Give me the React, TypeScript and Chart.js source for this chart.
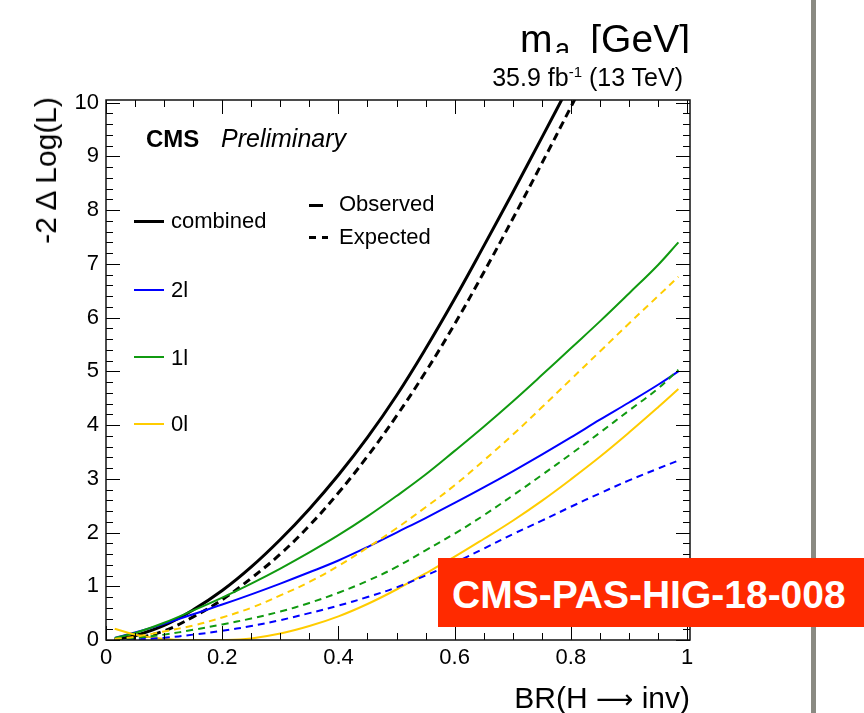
import React, { useEffect, useRef } from "react";
import { Chart, registerables } from "chart.js";

Chart.register(...registerables);

const FONT = "'Liberation Sans', Arial, Helvetica, sans-serif";

// BR(H -> inv) sample points
const BR = [0.015, 0.05, 0.1, 0.15, 0.2, 0.25, 0.3, 0.35, 0.4, 0.45, 0.5, 0.55, 0.6, 0.65, 0.7, 0.75, 0.8, 0.85, 0.9, 0.95, 0.985];

// -2 Delta Log(L) values
const combinedObs = [0.01, 0.08, 0.27, 0.56, 0.92, 1.36, 1.87, 2.44, 3.07, 3.77, 4.55, 5.42, 6.35, 7.33, 8.33, 9.35, 10.38, null, null, null, null];
const combinedExp = [0.0, 0.03, 0.17, 0.43, 0.75, 1.15, 1.6, 2.13, 2.74, 3.42, 4.17, 4.99, 5.88, 6.84, 7.84, 8.87, 9.92, 10.98, null, null, null];
const twoLepObs = [0.04, 0.14, 0.3, 0.48, 0.66, 0.85, 1.05, 1.26, 1.48, 1.73, 2.0, 2.27, 2.55, 2.84, 3.14, 3.45, 3.77, 4.1, 4.42, 4.75, 5.0];
const twoLepExp = [0.0, 0.01, 0.04, 0.1, 0.17, 0.26, 0.37, 0.5, 0.64, 0.8, 0.98, 1.2, 1.44, 1.7, 1.97, 2.22, 2.48, 2.73, 2.97, 3.19, 3.34];
const oneLepObs = [0.04, 0.13, 0.32, 0.55, 0.79, 1.05, 1.33, 1.63, 1.95, 2.3, 2.68, 3.08, 3.52, 3.97, 4.44, 4.93, 5.43, 5.93, 6.45, 6.98, 7.4];
const oneLepExp = [0.01, 0.04, 0.1, 0.19, 0.29, 0.4, 0.53, 0.69, 0.88, 1.1, 1.36, 1.67, 1.98, 2.32, 2.69, 3.07, 3.46, 3.86, 4.27, 4.68, 5.03];
const zeroLepObs = [0.21, 0.1, 0.02, 0.0, 0.0, 0.03, 0.12, 0.26, 0.44, 0.67, 0.94, 1.24, 1.55, 1.88, 2.22, 2.59, 2.99, 3.41, 3.86, 4.33, 4.67];
const zeroLepExp = [0.02, 0.06, 0.16, 0.27, 0.42, 0.6, 0.83, 1.08, 1.38, 1.72, 2.08, 2.47, 2.88, 3.34, 3.82, 4.33, 4.85, 5.37, 5.89, 6.4, 6.76];

// axis ticks
const xTicks = [0, 0.2, 0.4, 0.6, 0.8, 1];
const yTicks = [0, 1, 2, 3, 4, 5, 6, 7, 8, 9, 10];
const xMinorPerMajor = 4;
const yMinorPerMajor = 5;

const BLACK = "#000000";
const BLUE = "#0000ff";
const GREEN = "#109a10";
const YELLOW = "#ffcc00";

const mk = (vals: (number | null)[]) => BR.map((x, i) => ({ x, y: vals[i] }));

const framePlugin = {
  id: "rootFrame",
  afterDatasetsDraw(chart: any) {
    const { ctx, chartArea: a, scales } = chart;
    const xs = scales.x;
    const ys = scales.y;
    ctx.save();
    ctx.strokeStyle = "#000";
    ctx.lineWidth = 1;
    ctx.beginPath();
    for (let k = 0; k < xTicks.length; k++) {
      const v0 = xTicks[k];
      const v1 = k + 1 < xTicks.length ? xTicks[k + 1] : null;
      const steps = v1 === null ? 1 : xMinorPerMajor;
      for (let m = 0; m < steps; m++) {
        const v = v1 === null ? v0 : v0 + ((v1 - v0) * m) / xMinorPerMajor;
        const px = Math.round(xs.getPixelForValue(v)) + 0.5;
        const len = m === 0 ? 14 : 7;
        ctx.moveTo(px, a.bottom);
        ctx.lineTo(px, a.bottom - len);
        ctx.moveTo(px, a.top);
        ctx.lineTo(px, a.top + len);
      }
    }
    for (let k = 0; k < yTicks.length; k++) {
      const v0 = yTicks[k];
      const v1 = k + 1 < yTicks.length ? yTicks[k + 1] : null;
      const steps = v1 === null ? 1 : yMinorPerMajor;
      for (let m = 0; m < steps; m++) {
        const v = v1 === null ? v0 : v0 + ((v1 - v0) * m) / yMinorPerMajor;
        const py = Math.round(ys.getPixelForValue(v)) + 0.5;
        const len = m === 0 ? 14 : 7;
        ctx.moveTo(a.left, py);
        ctx.lineTo(a.left + len, py);
        ctx.moveTo(a.right, py);
        ctx.lineTo(a.right - len, py);
      }
    }
    ctx.stroke();
    ctx.lineWidth = 1.5;
    ctx.strokeStyle = "#111";
    ctx.strokeRect(a.left, a.top, a.right - a.left, a.bottom - a.top);
    ctx.restore();
  },
};

type TxtProps = {
  x: number;
  base: number;
  size: number;
  align?: "left" | "right";
  weight?: number;
  italic?: boolean;
  color?: string;
  children?: React.ReactNode;
};

const Txt = ({ x, base, size, align = "left", weight = 400, italic = false, color = "#000", children }: TxtProps) => {
  const style: any = {
    position: "absolute",
    top: base - 0.8465 * size,
    fontSize: size,
    lineHeight: 1,
    whiteSpace: "nowrap",
    fontWeight: weight,
    fontStyle: italic ? "italic" : "normal",
    color,
    fontFamily: FONT,
  };
  if (align === "left") style.left = x;
  else style.right = 864 - x;
  return <div style={style}>{children}</div>;
};

const Line = ({ x, y, w, color, t, dashed = false }: { x: number; y: number; w: number; color: string; t: number; dashed?: boolean }) => {
  if (dashed) {
    return (
      <>
        <div style={{ position: "absolute", left: x, top: y - t / 2, width: 7, height: t, background: color }} />
        <div style={{ position: "absolute", left: x + 13, top: y - t / 2, width: 6, height: t, background: color }} />
      </>
    );
  }
  return <div style={{ position: "absolute", left: x, top: y - t / 2, width: w, height: t, background: color }} />;
};

export default function App() {
  const ref = useRef<HTMLCanvasElement>(null);

  useEffect(() => {
    if (!ref.current) return;
    Chart.defaults.font.family = FONT;
    Chart.defaults.color = "#000";
    const line = (label: string, vals: (number | null)[], color: string, width: number, dash: number[]) => ({
      label,
      data: mk(vals),
      borderColor: color,
      backgroundColor: color,
      borderWidth: width,
      borderDash: dash,
      pointRadius: 0,
      fill: false,
      spanGaps: false,
      tension: 0.4,
    });
    const chart = new Chart(ref.current, {
      type: "line",
      data: {
        datasets: [
          line("0l expected", zeroLepExp, YELLOW, 2, [7, 5]),
          line("1l expected", oneLepExp, GREEN, 2, [7, 5]),
          line("2l expected", twoLepExp, BLUE, 2, [7, 5]),
          line("0l observed", zeroLepObs, YELLOW, 2, []),
          line("1l observed", oneLepObs, GREEN, 2, []),
          line("2l observed", twoLepObs, BLUE, 2, []),
          line("combined expected", combinedExp, BLACK, 3, [8, 5]),
          line("combined observed", combinedObs, BLACK, 3, []),
        ],
      },
      options: {
        animation: false,
        responsive: false,
        maintainAspectRatio: false,
        layout: { padding: { top: 100, right: 174, left: 0, bottom: 0 } },
        plugins: { legend: { display: false }, tooltip: { enabled: false } },
        scales: {
          x: {
            type: "linear",
            min: 0,
            max: 1.005,
            afterBuildTicks: (s: any) => {
              s.ticks = xTicks.map((v) => ({ value: v }));
            },
            afterFit: (s: any) => {
              s.height = 73;
            },
            ticks: {
              callback: (v: any) => String(v),
              font: { size: 22, family: FONT },
              color: "#000",
              padding: 5,
              maxRotation: 0,
              autoSkip: false,
            },
            grid: { display: false, drawTicks: false },
            border: { display: false },
          },
          y: {
            type: "linear",
            min: 0,
            max: 10.05,
            afterBuildTicks: (s: any) => {
              s.ticks = yTicks.map((v) => ({ value: v }));
            },
            afterFit: (s: any) => {
              s.width = 106;
            },
            ticks: {
              callback: (v: any) => String(v),
              font: { size: 22, family: FONT },
              color: "#000",
              padding: 7,
              autoSkip: false,
            },
            grid: { display: false, drawTicks: false },
            border: { display: false },
          },
        },
      },
      plugins: [framePlugin],
    } as any);
    return () => chart.destroy();
  }, []);

  return (
    <div style={{ position: "absolute", left: 0, top: 0, width: 864, height: 713, background: "#fff", overflow: "hidden", fontFamily: FONT }}>
      <canvas ref={ref} width={864} height={713} style={{ position: "absolute", left: 0, top: 0, width: 864, height: 713 }} />

      {/* header: m_a [GeV] (clipped at its pad edge) */}
      <div style={{ position: "absolute", left: 0, top: 0, width: 864, height: 53, overflow: "hidden" }}>
        <Txt x={520} base={52} size={39}>m</Txt>
        <Txt x={555} base={59} size={27}>a</Txt>
        <Txt x={690} base={52} size={39} align="right">[GeV]</Txt>
      </div>
      <Txt x={683} base={86} size={25} align="right">
        35.9 fb<span style={{ fontSize: 15, position: "relative", top: -9 }}>-1</span> (13 TeV)
      </Txt>

      {/* CMS label */}
      <Txt x={146} base={147} size={24} weight={700}>CMS</Txt>
      <Txt x={221} base={147} size={25} italic>Preliminary</Txt>

      {/* legend */}
      <Line x={134} y={221.5} w={30} color={BLACK} t={3} />
      <Txt x={171} base={229} size={22}>combined</Txt>
      <Line x={134} y={289.5} w={30} color={BLUE} t={2} />
      <Txt x={171} base={298} size={22}>2l</Txt>
      <Line x={134} y={356.5} w={30} color={GREEN} t={2} />
      <Txt x={171} base={365.5} size={22}>1l</Txt>
      <Line x={134} y={424} w={30} color={YELLOW} t={2} />
      <Txt x={171} base={432} size={22}>0l</Txt>

      <Line x={309} y={205} w={14} color={BLACK} t={3} />
      <Txt x={339} base={212} size={22}>Observed</Txt>
      <Line x={309} y={237} w={19} color={BLACK} t={3} dashed />
      <Txt x={339} base={245} size={22}>Expected</Txt>

      {/* axis titles */}
      <div
        style={{
          position: "absolute",
          left: 30.6,
          top: 97,
          fontSize: 30,
          lineHeight: 1,
          whiteSpace: "nowrap",
          fontFamily: FONT,
          color: "#000",
          transformOrigin: "top left",
          transform: "rotate(-90deg) translateX(-100%)",
        }}
      >
        -2 Δ Log(L)
      </div>
      <Txt x={690} base={708} size={30} align="right">
        BR(H <span style={{ fontFamily: "'DejaVu Sans', sans-serif", fontSize: 26, lineHeight: 0 }}>⟶</span> inv)
      </Txt>

      {/* right-side gray bar */}
      <div style={{ position: "absolute", left: 811, top: 0, width: 5, height: 713, background: "#8a8a82" }} />

      {/* red label box */}
      <div style={{ position: "absolute", left: 438, top: 558, width: 426, height: 69, background: "#ff2a00" }} />
      <Txt x={452} base={608} size={39} weight={700} color="#ffffff">CMS-PAS-HIG-18-008</Txt>
    </div>
  );
}
